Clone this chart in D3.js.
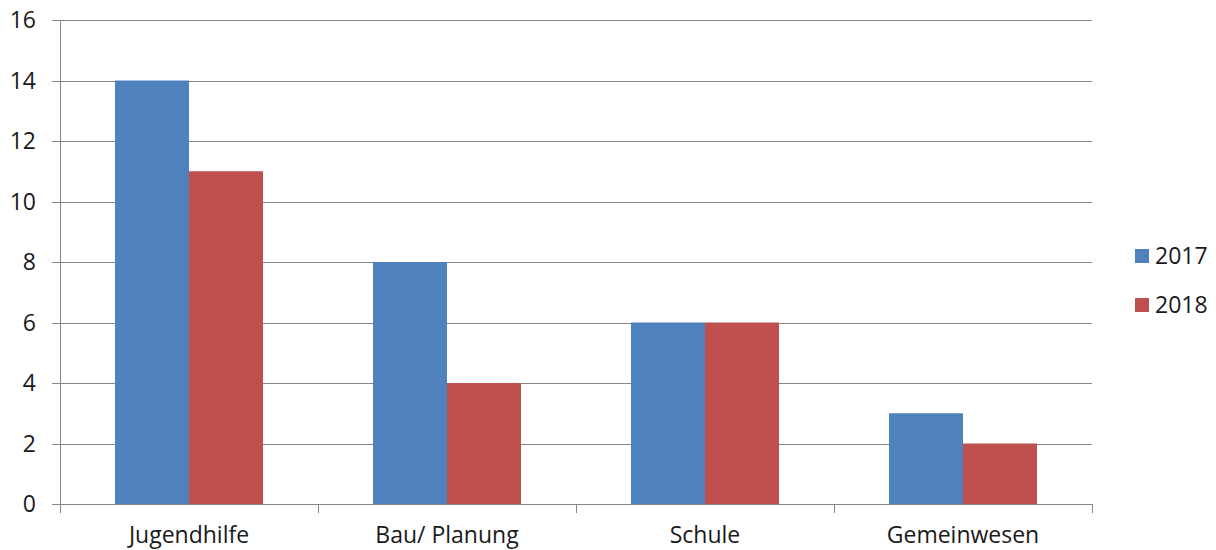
<!DOCTYPE html>
<html>
<head>
<meta charset="utf-8">
<script src="https://cdn.jsdelivr.net/npm/d3@7"></script>
<style>
  html, body { margin: 0; padding: 0; background: #fff; }
  svg { display: block; font-family: "Open Sans", "Liberation Sans", sans-serif; }
</style>
</head>
<body>
<svg id="chart" width="1216" height="550"></svg>
<script>
// Chart data
const categories = ["Jugendhilfe", "Bau/ Planung", "Schule", "Gemeinwesen"];
const seriesNames = ["2017", "2018"];
const values2017 = [14, 8, 6, 3];
const values2018 = [11, 4, 6, 2];
const yTicks = [0, 2, 4, 6, 8, 10, 12, 14, 16];
const colors = ["#4f81bd", "#c0504d"];

(function () {
  const svg = d3.select("#chart");
  const plotLeft = 60, plotRight = 1092, plotTop = 20, plotBottom = 504;
  const fontSize = 23;

  const y = d3.scaleLinear().domain([0, 16]).range([plotBottom, plotTop]);
  const x0 = d3.scaleBand().domain(categories).range([plotLeft, plotRight]).padding(0);
  const x1 = d3.scaleBand().domain(seriesNames)
    .range([55, x0.bandwidth() - 55]).padding(0);

  const gridColor = "#868686";
  const textColor = "#1a1a1a";

  // Horizontal gridlines with tick stubs on the left
  svg.append("g").selectAll("line").data(yTicks).join("line")
    .attr("x1", plotLeft - 8).attr("x2", plotRight)
    .attr("y1", d => Math.round(y(d)) + 0.5).attr("y2", d => Math.round(y(d)) + 0.5)
    .attr("stroke", gridColor).attr("stroke-width", 1);

  // Y tick labels
  svg.append("g").selectAll("text").data(yTicks).join("text")
    .attr("x", 36).attr("y", d => y(d))
    .attr("dy", "0.36em").attr("text-anchor", "end")
    .attr("font-size", fontSize).attr("fill", textColor)
    .text(d => d);

  // Bars
  const rows = categories.map((c, i) => ({ cat: c, vals: [values2017[i], values2018[i]] }));
  const groups = svg.append("g").selectAll("g").data(rows).join("g")
    .attr("transform", d => `translate(${x0(d.cat)},0)`);
  groups.selectAll("rect").data(d => d.vals.map((v, j) => ({ key: seriesNames[j], v, j })))
    .join("rect")
    .attr("x", d => x1(d.key))
    .attr("width", x1.bandwidth())
    .attr("y", d => y(d.v))
    .attr("height", d => y(0) - y(d.v))
    .attr("fill", d => colors[d.j]);

  // Axis lines
  svg.append("line")
    .attr("x1", plotLeft + 0.5).attr("x2", plotLeft + 0.5)
    .attr("y1", plotTop).attr("y2", plotBottom + 9)
    .attr("stroke", gridColor);
  const boundaries = categories.map(c => x0(c)).concat([plotRight]);
  svg.append("g").selectAll("line").data(boundaries).join("line")
    .attr("x1", d => Math.round(d) + 0.5).attr("x2", d => Math.round(d) + 0.5)
    .attr("y1", plotBottom).attr("y2", plotBottom + 9)
    .attr("stroke", gridColor);

  // Category labels
  svg.append("g").selectAll("text").data(categories).join("text")
    .attr("x", d => x0(d) + x0.bandwidth() / 2)
    .attr("y", 543)
    .attr("text-anchor", "middle")
    .attr("font-size", fontSize).attr("fill", textColor)
    .text(d => d);

  // Legend
  const legend = svg.append("g").selectAll("g").data(seriesNames).join("g")
    .attr("transform", (d, i) => `translate(1135,${256 + i * 49})`);
  legend.append("rect")
    .attr("x", 0).attr("y", -7).attr("width", 14).attr("height", 14)
    .attr("fill", (d, i) => colors[i]);
  legend.append("text")
    .attr("x", 20).attr("y", 0).attr("dy", "0.36em")
    .attr("font-size", fontSize).attr("fill", textColor)
    .text(d => d);
})();
</script>
</body>
</html>
